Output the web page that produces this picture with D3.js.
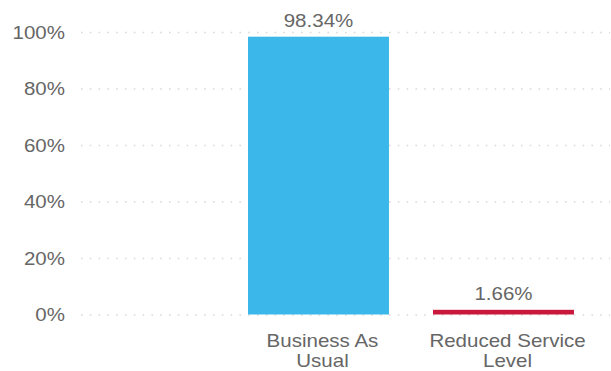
<!DOCTYPE html>
<html>
<head>
<meta charset="utf-8">
<script src="https://cdn.jsdelivr.net/npm/d3@7"></script>
<style>
  html, body { margin: 0; padding: 0; background: #fff; }
  svg { display: block; font-family: "Liberation Sans", Arial, sans-serif; }
</style>
</head>
<body>
<svg id="chart" width="611" height="371"></svg>
<script>
// Share of outcomes per scenario (percent)
const categories = ["", "Business As Usual", "Reduced Service Level"];
const values = [null, 98.34, 1.66];
const barColors = [null, "#3bb8e9", "#c8193c"];
const yTicks = [0, 20, 40, 60, 80, 100];
const xLabelLines = [[], ["Business As", "Usual"], ["Reduced Service", "Level"]];

const svg = d3.select("#chart");
const textColor = "#666666";
const stretch = 1.14; // wide label face

const x = d3.scaleBand()
  .domain(categories)
  .range([41, 596])
  .paddingInner(0.238)
  .paddingOuter(0.119);

const y = d3.scaleLinear()
  .domain([0, 100])
  .range([314.5, 32]);

const gridLeft = 81, gridRight = 610;

// horizontal dotted gridlines
const yAxis = d3.axisLeft(y)
  .tickValues(yTicks)
  .tickSize(-(gridRight - gridLeft))
  .tickFormat(d => d + "%");

const gy = svg.append("g")
  .attr("transform", `translate(${gridLeft},0)`)
  .call(yAxis);
gy.select(".domain").remove();
gy.selectAll(".tick line")
  .attr("stroke", "#d9d9d9")
  .attr("stroke-width", 1.6)
  .attr("stroke-dasharray", "1.6,7.2");
gy.selectAll(".tick text")
  .attr("x", 0)
  .attr("dy", "0.34em")
  .attr("fill", textColor)
  .attr("font-size", 18)
  .attr("text-anchor", "end")
  .attr("transform", `translate(-16,0) scale(${stretch},1)`);

// bars
const data = categories.map((c, i) => ({ c, v: values[i], color: barColors[i], lines: xLabelLines[i] }))
  .filter(d => d.v != null);

svg.append("g").selectAll("rect")
  .data(data)
  .join("rect")
  .attr("x", d => x(d.c))
  .attr("width", x.bandwidth())
  .attr("y", d => y(d.v))
  .attr("height", d => y(0) - y(d.v))
  .attr("fill", d => d.color);

// value labels above bars
svg.append("g").selectAll("text")
  .data(data)
  .join("text")
  .attr("transform", d => `translate(${x(d.c) + x.bandwidth() / 2},${y(d.v) - 10}) scale(${stretch},1)`)
  .attr("text-anchor", "middle")
  .attr("font-size", 18)
  .attr("fill", textColor)
  .text(d => d.v.toFixed(2) + "%");

// category labels (two lines)
const lab = svg.append("g").selectAll("g")
  .data(data)
  .join("g")
  .attr("transform", d => `translate(${x(d.c) + x.bandwidth() / 2 + 4},347)`);
lab.selectAll("text")
  .data(d => d.lines)
  .join("text")
  .attr("transform", (l, i) => `translate(0,${i * 19.5}) scale(${stretch},1)`)
  .attr("text-anchor", "middle")
  .attr("font-size", 18)
  .attr("fill", textColor)
  .text(l => l);
</script>
</body>
</html>
